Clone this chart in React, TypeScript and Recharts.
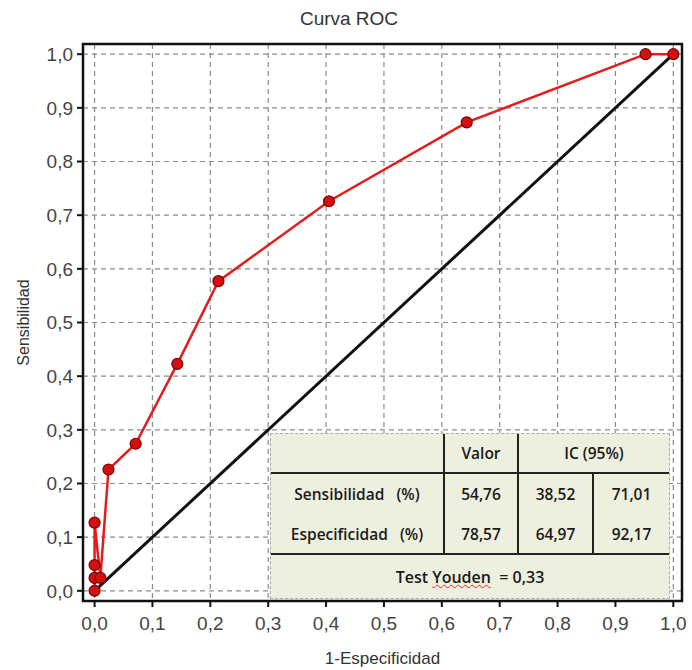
import React from "react";
import {
  LineChart,
  Line,
  XAxis,
  YAxis,
  CartesianGrid,
  ReferenceArea,
} from "recharts";

// 1-Especificidad / Sensibilidad
const fpr = [0, 0, 0, 0, 0.01, 0.024, 0.071, 0.143, 0.214, 0.405, 0.643, 0.952, 1.0];
const tpr = [0, 0.024, 0.048, 0.127, 0.024, 0.226, 0.274, 0.423, 0.577, 0.726, 0.873, 1.0, 1.0];

const diagX = [0, 1];
const diagY = [0, 1];

const ticks = [0, 0.1, 0.2, 0.3, 0.4, 0.5, 0.6, 0.7, 0.8, 0.9, 1.0];

const tableHeader = ["", "Valor", "IC (95%)"];
const sensRow = ["Sensibilidad   (%)", "54,76", "38,52", "71,01"];
const espRow = ["Especificidad   (%)", "78,57", "64,97", "92,17"];
const youden = "0,33";

const rocData = fpr.map((x, i) => ({ x, y: tpr[i] }));
const diagData = diagX.map((x, i) => ({ x, y: diagY[i] }));

const fmt = (v: number) => v.toFixed(1).replace(".", ",");
const xDom: [number, number] = [-0.02, 1.015];
const yDom: [number, number] = [-0.019, 1.019];

const tickStyle = { fontSize: 19, fill: "#444", fontFamily: "Liberation Sans, Arial" };

const cell: React.CSSProperties = {
  display: "flex",
  alignItems: "center",
  justifyContent: "center",
  boxSizing: "border-box",
};

function StatsTable() {
  const line = "2px solid #222";
  return (
    <div
      style={{
        position: "absolute",
        left: 270,
        top: 433,
        width: 400,
        height: 166,
        background: "#eef0df",
        border: "1px dashed #aaa",
        boxSizing: "border-box",
        fontFamily: "Open Sans, Noto Sans, sans-serif",
        fontSize: 15.5,
        fontWeight: 600,
        color: "#1a1a1a",
        display: "grid",
        gridTemplateColumns: "174px 74px 75px 1fr",
        gridTemplateRows: "40px 40px 41px 1fr",
      }}
    >
      <div style={{ ...cell, borderRight: line, borderBottom: line }}>{tableHeader[0]}</div>
      <div style={{ ...cell, borderRight: line, borderBottom: line }}>{tableHeader[1]}</div>
      <div style={{ ...cell, gridColumn: "3 / 5", borderBottom: line }}>{tableHeader[2]}</div>
      {sensRow.map((t, i) => (
        <div key={"s" + i} style={{ ...cell, borderRight: i < 3 ? line : undefined, whiteSpace: "pre" }}>
          {t}
        </div>
      ))}
      {espRow.map((t, i) => (
        <div
          key={"e" + i}
          style={{ ...cell, borderRight: i < 3 ? line : undefined, borderBottom: line, whiteSpace: "pre" }}
        >
          {t}
        </div>
      ))}
      <div style={{ ...cell, gridColumn: "1 / 5", fontSize: 16 }}>
        <span style={{ whiteSpace: "pre" }}>
          Test{" "}
          <span style={{ textDecoration: "underline wavy #e03030", textDecorationThickness: 1 }}>
            Youden
          </span>
          {"  = "}
          {youden}
        </span>
      </div>
    </div>
  );
}

export default function App() {
  return (
    <div style={{ position: "absolute", left: 0, top: 0, width: 692, height: 670, background: "#fff" }}>
      <div
        style={{
          position: "absolute",
          left: 249,
          width: 200,
          top: 8,
          textAlign: "center",
          fontFamily: "Liberation Sans, Arial",
          fontSize: 19,
          color: "#333",
        }}
      >
        Curva ROC
      </div>
      <LineChart width={692} height={670} margin={{ top: 44, right: 10, bottom: 2, left: 29 }}>
        <CartesianGrid stroke="#8a8a8a" strokeDasharray="5 4" strokeWidth={1.2} />
        <XAxis
          dataKey="x"
          type="number"
          domain={xDom}
          ticks={ticks}
          tickFormatter={fmt}
          allowDataOverflow
          height={67}
          stroke="#111"
          strokeWidth={2}
          tick={tickStyle}
          tickSize={6}
          tickMargin={10}
          label={{
            value: "1-Especificidad",
            position: "insideBottom",
            offset: 4,
            style: { fontSize: 17, fill: "#333", fontFamily: "Liberation Sans, Arial" },
          }}
        />
        <YAxis
          dataKey="y"
          type="number"
          domain={yDom}
          ticks={ticks}
          tickFormatter={fmt}
          allowDataOverflow
          width={54}
          stroke="#111"
          strokeWidth={2}
          tick={tickStyle}
          tickSize={6}
          tickMargin={4}
          label={{
            value: "Sensibilidad",
            angle: -90,
            position: "insideLeft",
            offset: -6,
            style: { textAnchor: "middle", fontSize: 16, fill: "#333", fontFamily: "Liberation Sans, Arial" },
          }}
        />
        <ReferenceArea
          x1={xDom[0]}
          x2={xDom[1]}
          y1={yDom[0]}
          y2={yDom[1]}
          fill="none"
          stroke="#111"
          strokeWidth={2.5}
        />
        <Line
          data={diagData}
          dataKey="y"
          type="linear"
          stroke="#111"
          strokeWidth={3}
          dot={false}
          isAnimationActive={false}
        />
        <Line
          data={rocData}
          dataKey="y"
          type="linear"
          stroke="#e51c1c"
          strokeWidth={2.5}
          dot={{ r: 5.5, fill: "#d40f0f", stroke: "#7a0000", strokeWidth: 1.2 }}
          isAnimationActive={false}
        />
      </LineChart>
      <StatsTable />
    </div>
  );
}
